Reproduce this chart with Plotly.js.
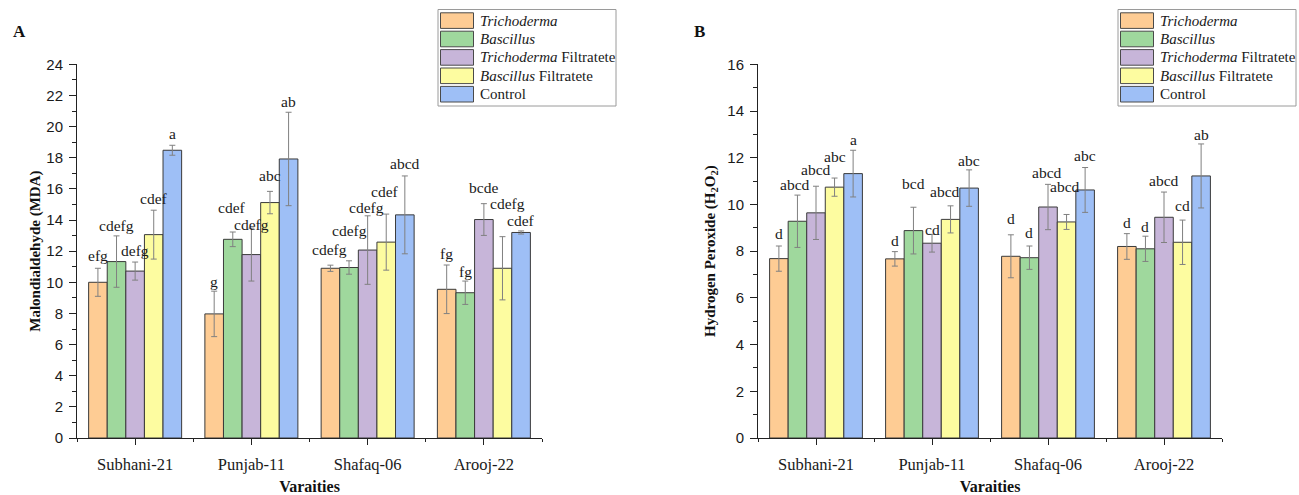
<!DOCTYPE html>
<html>
<head>
<meta charset="utf-8">
<script src="https://cdn.plot.ly/plotly-3.0.1.min.js"></script>
<style>html,body{margin:0;padding:0;background:#fff;}#chart{width:1299px;height:495px;}</style>
</head>
<body>
<div id="chart"></div>
<script>
// ---------- DATA ----------
const categories = ["Subhani-21", "Punjab-11", "Shafaq-06", "Arooj-22"];
const seriesNames = ["<i>Trichoderma</i>", "<i>Bascillus</i>", "<i>Trichoderma</i> Filtratete", "<i>Bascillus</i> Filtratete", "Control"];

// Panel A: Malondialdehyde (MDA)
const mdaTrichoderma = [10.0, 7.97, 10.9, 9.55];
const mdaBascillus = [11.33, 12.76, 10.95, 9.33];
const mdaTrichFiltrate = [10.72, 11.78, 12.07, 14.03];
const mdaBascFiltrate = [13.06, 15.12, 12.58, 10.9];
const mdaControl = [18.48, 17.92, 14.33, 13.2];
const mdaErrTrichoderma = [0.9, 1.46, 0.2, 1.56];
const mdaErrBascillus = [1.65, 0.47, 0.43, 0.75];
const mdaErrTrichFiltrate = [0.58, 1.7, 2.2, 1.02];
const mdaErrBascFiltrate = [1.57, 0.72, 1.8, 2.03];
const mdaErrControl = [0.32, 3.0, 2.5, 0.1];
const mdaLetters = [
  ["efg", "g", "cdefg", "fg"],
  ["cdefg", "cdef", "cdefg", "fg"],
  ["defg", "cdefg", "cdefg", "bcde"],
  ["cdef", "abc", "cdef", "cdefg"],
  ["a", "ab", "abcd", "cdef"]
];

// Panel B: Hydrogen Peroxide (H2O2)
const h2o2Trichoderma = [7.68, 7.67, 7.78, 8.2];
const h2o2Bascillus = [9.28, 8.88, 7.72, 8.1];
const h2o2TrichFiltrate = [9.64, 8.34, 9.89, 9.45];
const h2o2BascFiltrate = [10.74, 9.36, 9.25, 8.38];
const h2o2Control = [11.32, 10.7, 10.62, 11.22];
const h2o2ErrTrichoderma = [0.54, 0.31, 0.92, 0.55];
const h2o2ErrBascillus = [1.12, 1.0, 0.5, 0.54];
const h2o2ErrTrichFiltrate = [1.14, 0.38, 0.97, 1.08];
const h2o2ErrBascFiltrate = [0.39, 0.58, 0.32, 0.95];
const h2o2ErrControl = [1.0, 0.78, 0.96, 1.37];
const h2o2Letters = [
  ["d", "d", "d", "d"],
  ["abcd", "bcd", "d", "d"],
  ["abcd", "cd", "abcd", "abcd"],
  ["abc", "abcd", "abcd", "cd"],
  ["a", "abc", "abc", "ab"]
];

// ---------- STYLE / LAYOUT ----------
const colors = ["#fecc94", "#9fd89d", "#c7b5d9", "#fdfca0", "#9ebff6"];
const W = 1299, H = 495;
const px = v => v / W;
const py = v => 1 - v / H;
// label lift above error-bar top (px) and horizontal nudges, per series/category
const mdaLift = [[13,10,16,12],[10,25,30,10],[12,4,8,16],[12,16,23,33],[12,11,12,10]];
const mdaNudge = [[0,0,-1,0],[0,-1,0,0],[0,0,-1,0],[0,0,-1,5],[0,0,0,0]];
const h2o2Lift = [[13,11,16,11],[11,24,14,10],[17,5,12,12],[22,14,28,15],[11,9,12,9]];
const h2o2Nudge = [[0,0,0,0],[-2,0,0,0],[0,0,-1,0],[0,-6,-2,0],[0,0,0,0]];

const serif = "Liberation Serif, Times New Roman, serif";
const sans = "Liberation Sans, Arial, sans-serif";
const xs = categories.map((_, i) => i);
const nS = 5, groupW = 0.8, barW = groupW / nS;

const mdaVals = [mdaTrichoderma, mdaBascillus, mdaTrichFiltrate, mdaBascFiltrate, mdaControl];
const mdaErrs = [mdaErrTrichoderma, mdaErrBascillus, mdaErrTrichFiltrate, mdaErrBascFiltrate, mdaErrControl];
const h2o2Vals = [h2o2Trichoderma, h2o2Bascillus, h2o2TrichFiltrate, h2o2BascFiltrate, h2o2Control];
const h2o2Errs = [h2o2ErrTrichoderma, h2o2ErrBascillus, h2o2ErrTrichFiltrate, h2o2ErrBascFiltrate, h2o2ErrControl];

const traces = [];
const annotations = [];
function addPanel(vals, errs, letters, lift, nudge, xa, ya) {
  vals.forEach((v, s) => {
    traces.push({
      type: "bar", x: xs, y: v, name: seriesNames[s], showlegend: false,
      xaxis: xa, yaxis: ya,
      marker: {color: colors[s], line: {color: "#3a3a3a", width: 1}},
      error_y: {type: "data", array: errs[s], visible: true, color: "#808080", thickness: 1, width: 3},
      hoverinfo: "y"
    });
    v.forEach((val, i) => {
      annotations.push({
        xref: xa, yref: ya, x: i - groupW / 2 + barW * (s + 0.5), y: val + errs[s][i],
        text: letters[s][i], showarrow: false, xanchor: "center", yanchor: "middle",
        yshift: lift[s][i], xshift: nudge[s][i],
        font: {family: serif, size: 15.5, color: "#1a1a1a"}
      });
    });
  });
}
addPanel(mdaVals, mdaErrs, mdaLetters, mdaLift, mdaNudge, "x", "y");
addPanel(h2o2Vals, h2o2Errs, h2o2Letters, h2o2Lift, h2o2Nudge, "x2", "y2");

// custom legends
const shapes = [];
function addLegend(left) {
  const top = 9.5, boxW = 178, boxH = 96.5;
  shapes.push({type: "rect", xref: "paper", yref: "paper", x0: px(left), x1: px(left + boxW), y0: py(top), y1: py(top + boxH),
    line: {color: "#9a9a9a", width: 1}, fillcolor: "rgba(255,255,255,0)"});
  seriesNames.forEach((n, s) => {
    const y0 = top + 3.3 + s * 18.4;
    shapes.push({type: "rect", xref: "paper", yref: "paper", x0: px(left + 2.5), x1: px(left + 35.5), y0: py(y0), y1: py(y0 + 15.6),
      line: {color: "#4a4a4a", width: 1}, fillcolor: colors[s]});
    annotations.push({xref: "paper", yref: "paper", x: px(left + 39.5), y: py(y0 + 7.8), text: n, showarrow: false,
      xanchor: "left", yanchor: "middle", font: {family: serif, size: 15, color: "#1a1a1a"}});
  });
}
addLegend(438);
addLegend(1118);

// panel labels
const txt = (x, y, t, opts) => annotations.push(Object.assign({xref: "paper", yref: "paper", x: px(x), y: py(y), text: t, showarrow: false,
  xanchor: "center", yanchor: "middle", font: {family: serif, size: 16, color: "#111"}}, opts || {}));
txt(19, 32, "<b>A</b>", {font: {family: serif, size: 17, color: "#111"}});
txt(699, 32, "<b>B</b>", {font: {family: serif, size: 17, color: "#111"}});

const xTitle = {text: "<b>Varaities</b>", font: {family: serif, size: 16, color: "#111"}, standoff: 8};
const xAxisBase = {
  range: [-0.5, 3.5], tickmode: "array", tickvals: xs, ticktext: categories,
  showline: true, linecolor: "#222", linewidth: 1, ticks: "outside", ticklen: 6, tickwidth: 1, tickcolor: "#222",
  minor: {tickmode: "array", tickvals: [-0.5, 0.5, 1.5, 2.5, 3.5], ticks: "outside", ticklen: 3, tickcolor: "#222", showgrid: false},
  showgrid: false, zeroline: false, ticklabelstandoff: 5,
  tickfont: {family: serif, size: 16.5, color: "#1a1a1a"}, fixedrange: true, title: xTitle
};
const yAxisBase = {
  showline: true, linecolor: "#222", linewidth: 1, ticks: "outside", ticklen: 7, tickwidth: 1, tickcolor: "#222",
  dtick: 2, tick0: 0, minor: {dtick: 1, ticks: "outside", ticklen: 4, tickcolor: "#222", showgrid: false},
  showgrid: false, zeroline: false, ticklabelstandoff: 3,
  tickfont: {family: sans, size: 15, color: "#1a1a1a"}, fixedrange: true
};
const yDom = [py(438), py(64.3)];

const layout = {
  width: W, height: H, margin: {l: 0, r: 0, t: 0, b: 0},
  paper_bgcolor: "#fff", plot_bgcolor: "rgba(0,0,0,0)",
  barmode: "group", bargap: 1 - groupW, bargroupgap: 0,
  showlegend: false,
  xaxis: Object.assign({}, xAxisBase, {domain: [px(77), px(542)], anchor: "y"}),
  yaxis: Object.assign({}, yAxisBase, {domain: yDom, range: [0, 24], anchor: "x",
    title: {text: "<b>Malondialdehyde (MDA)</b>", font: {family: serif, size: 15, color: "#111"}, standoff: 2}}),
  xaxis2: Object.assign({}, xAxisBase, {domain: [px(758), px(1222)], anchor: "y2"}),
  yaxis2: Object.assign({}, yAxisBase, {domain: yDom, range: [0, 16], anchor: "x2",
    title: {text: "<b>Hydrogen Peroxide (H<sub>2</sub>O<sub>2</sub>)</b>", font: {family: serif, size: 15, color: "#111"}, standoff: 8}}),
  annotations: annotations, shapes: shapes
};
Plotly.newPlot("chart", traces, layout, {displayModeBar: false, staticPlot: true});
</script>
</body>
</html>
